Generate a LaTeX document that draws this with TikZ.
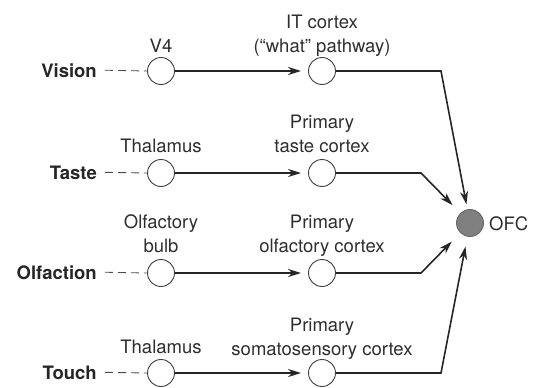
\documentclass[tikz,border=0pt]{standalone}
\usepackage{fontspec}
\setmainfont{TeX Gyre Heros}
\usetikzlibrary{arrows.meta}
\begin{document}
\begin{tikzpicture}[x=1pt,y=-1pt,
  txt/.style={font=\fontsize{18.5}{24}\selectfont, text=black!82, inner sep=0pt, align=center, anchor=base},
  sense/.style={font=\fontsize{18.5}{24}\selectfont\bfseries, text=black!85, inner ysep=0pt, inner xsep=8pt, anchor=base east},
  relay/.style={circle, draw=black!75, line width=0.9pt, fill=white, minimum size=27pt, inner sep=0pt},
  ofcnode/.style={circle, draw=black!60, line width=0.9pt, fill=black!50, minimum size=27pt, inner sep=0pt},
  link/.style={draw=black!85, line width=1.6pt, -{Stealth[length=13pt,width=8pt,inset=4pt]}},
  dashlink/.style={draw=black!70, line width=0.9pt, dash pattern=on 8pt off 5pt},
]
\useasboundingbox (0,0) rectangle (541,388);

% relay circles
\node[relay] (v1) at (161,71) {};
\node[relay] (v2) at (322,71) {};
\node[relay] (t1) at (161,173) {};
\node[relay] (t2) at (322,173) {};
\node[relay] (o1) at (161,273) {};
\node[relay] (o2) at (322,273) {};
\node[relay] (h1) at (161,373) {};
\node[relay] (h2) at (322,373) {};
\node[ofcnode] (ofc) at (470,223) {};
\node[font=\fontsize{18.5}{24}\selectfont, text=black!82, inner sep=0pt, anchor=base west] (ofcl) at (489,230) {OFC};

% sense labels
\node[sense] (vision) at (105,77) {Vision};
\node[sense] (taste) at (105,179) {Taste};
\node[sense] (olf) at (105,279) {Olfaction};
\node[sense] (touch) at (105,379) {Touch};

% text labels
\node[txt] (lv1) at (161,52) {V4};
\node[txt] (lv2) at (322,52) {IT cortex\\(“what” pathway)};
\node[txt] (lt1) at (161,152) {Thalamus};
\node[txt] (lt2) at (322,152) {Primary\\taste cortex};
\node[txt] (lo1) at (161,252) {Olfactory\\bulb};
\node[txt] (lo2) at (322,252) {Primary\\olfactory cortex};
\node[txt] (lh1) at (161,353) {Thalamus};
\node[txt] (lh2) at (322,355) {Primary\\somatosensory cortex};

% bend points
\coordinate (bv) at (441,71);
\coordinate (bt) at (421,173);
\coordinate (bo) at (421,273);
\coordinate (bh) at (441,373);

% dashed inputs
\draw[dashlink] (vision.east) -- (v1.west);
\draw[dashlink] (taste.east) -- (t1.west);
\draw[dashlink] (olf.east) -- (o1.west);
\draw[dashlink] (touch.east) -- (h1.west);

% relay links
\draw[link, shorten >=7pt] (v1) -- (v2);
\draw[link, shorten >=7pt] (t1) -- (t2);
\draw[link, shorten >=7pt] (o1) -- (o2);
\draw[link, shorten >=7pt] (h1) -- (h2);

% to OFC
\draw[link, shorten >=5pt] (v2) -- (bv) -- (ofc);
\draw[link, shorten >=11pt] (t2) -- (bt) -- (ofc);
\draw[link, shorten >=12pt] (o2) -- (bo) -- (ofc);
\draw[link, shorten >=10pt] (h2) -- (bh) -- (ofc);
\end{tikzpicture}
\end{document}
